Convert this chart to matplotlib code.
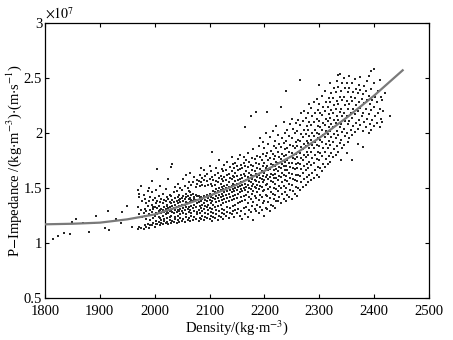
import matplotlib
matplotlib.use("Agg")
import matplotlib.pyplot as plt

plt.rcParams['font.family'] = ['Liberation Serif', 'DejaVu Serif']
plt.rcParams['mathtext.fontset'] = 'stix'

# sparse low-density points (density, impedance x1e7)
sparse_x = [1815, 1824, 1835, 1846, 1849, 1856, 1881, 1893, 1909, 1915, 1917, 1929, 1940, 1939, 1949, 1958, 1969, 1972, 1870, 1890]
sparse_y = [1.04, 1.06, 1.09, 1.08, 1.19, 1.22, 1.10, 1.25, 1.14, 1.29, 1.12, 1.22, 1.28, 1.18, 1.34, 1.15, 1.48, 1.42, 1.18, 1.18]

# dense cloud: density column -> impedance values (x1e7)
cloud = [
    (1970, [1.13, 1.33]), (1972, [1.26, 1.45, 1.15]), (1975, [1.14, 1.30, 1.52]), (1977, [1.24, 1.38]),
    (1980, [1.13, 1.27, 1.44]), (1982, [1.16, 1.31, 1.40, 1.25]), (1985, [1.15, 1.22, 1.36, 1.29]), (1987, [1.17, 1.34, 1.47]),
    (1990, [1.14, 1.26, 1.38, 1.50]), (1992, [1.16, 1.30, 1.42, 1.21]), (1995, [1.16, 1.28, 1.35, 1.46, 1.56]), (1997, [1.18, 1.23, 1.31, 1.39, 1.33]),
    (2000, [1.15, 1.25, 1.33, 1.41]), (2002, [1.17, 1.27, 1.36, 1.48, 1.20]), (2005, [1.17, 1.26, 1.32, 1.38, 1.67]), (2007, [1.19, 1.24, 1.29, 1.34, 1.43]),
    (2010, [1.16, 1.23, 1.30, 1.37, 1.52]), (2012, [1.18, 1.27, 1.31, 1.40, 1.21]), (2015, [1.17, 1.25, 1.30, 1.36, 1.45]), (2017, [1.20, 1.22, 1.28, 1.33, 1.39]),
    (2020, [1.18, 1.26, 1.31, 1.38, 1.49]), (2022, [1.19, 1.23, 1.28, 1.35, 1.42, 1.34]), (2025, [1.17, 1.27, 1.32, 1.40, 1.58]), (2027, [1.21, 1.24, 1.29, 1.33, 1.37, 1.44]),
    (2030, [1.18, 1.25, 1.30, 1.36, 1.43, 1.69]), (2032, [1.20, 1.28, 1.31, 1.34, 1.39, 1.72]), (2035, [1.19, 1.27, 1.32, 1.37, 1.46]), (2037, [1.22, 1.24, 1.30, 1.35, 1.41, 1.51]),
    (2040, [1.18, 1.28, 1.33, 1.38, 1.47]), (2042, [1.21, 1.25, 1.30, 1.36, 1.42, 1.54]), (2045, [1.19, 1.29, 1.34, 1.39, 1.44]), (2047, [1.23, 1.26, 1.31, 1.37, 1.40, 1.50]),
    (2050, [1.20, 1.29, 1.35, 1.41, 1.48]), (2052, [1.22, 1.27, 1.32, 1.38, 1.43, 1.58]), (2055, [1.19, 1.30, 1.35, 1.40, 1.52]), (2057, [1.24, 1.26, 1.33, 1.37, 1.42, 1.45, 1.62]),
    (2060, [1.21, 1.31, 1.36, 1.43, 1.50]), (2062, [1.23, 1.28, 1.33, 1.40, 1.47, 1.55]), (2065, [1.20, 1.30, 1.37, 1.41, 1.46, 1.64]), (2067, [1.25, 1.27, 1.34, 1.39, 1.44, 1.53]),
    (2070, [1.21, 1.32, 1.38, 1.45, 1.55]), (2072, [1.24, 1.29, 1.35, 1.40, 1.42, 1.60]), (2075, [1.22, 1.33, 1.39, 1.44, 1.51]), (2077, [1.26, 1.28, 1.36, 1.43, 1.54, 1.57]),
    (2080, [1.20, 1.30, 1.37, 1.43, 1.56]), (2082, [1.23, 1.27, 1.34, 1.41, 1.52, 1.62]), (2085, [1.22, 1.32, 1.38, 1.42, 1.55, 1.68]), (2087, [1.25, 1.29, 1.35, 1.40, 1.53, 1.59]),
    (2090, [1.21, 1.31, 1.36, 1.43, 1.57, 1.66]), (2092, [1.24, 1.27, 1.34, 1.39, 1.52, 1.61]), (2095, [1.23, 1.33, 1.38, 1.44, 1.56, 1.63]), (2097, [1.26, 1.30, 1.35, 1.41, 1.53]),
    (2100, [1.22, 1.32, 1.39, 1.45, 1.58, 1.70]), (2102, [1.25, 1.28, 1.36, 1.42, 1.54, 1.65]), (2105, [1.20, 1.31, 1.38, 1.44, 1.52, 1.60, 1.83]), (2107, [1.24, 1.27, 1.35, 1.41, 1.47, 1.57]),
    (2110, [1.23, 1.33, 1.40, 1.46, 1.53, 1.62]), (2112, [1.26, 1.30, 1.37, 1.43, 1.49, 1.56, 1.68]), (2115, [1.21, 1.34, 1.41, 1.47, 1.55, 1.64]), (2117, [1.25, 1.29, 1.38, 1.44, 1.50, 1.59, 1.75]),
    (2120, [1.24, 1.35, 1.42, 1.48, 1.54, 1.61]), (2122, [1.27, 1.31, 1.39, 1.45, 1.51, 1.58, 1.67]), (2125, [1.22, 1.36, 1.43, 1.49, 1.56, 1.65]), (2127, [1.26, 1.30, 1.40, 1.46, 1.52, 1.60, 1.71]),
    (2130, [1.25, 1.37, 1.44, 1.50, 1.57, 1.66]), (2132, [1.28, 1.33, 1.41, 1.47, 1.53, 1.62, 1.74]), (2135, [1.23, 1.38, 1.45, 1.51, 1.55, 1.63]), (2137, [1.27, 1.32, 1.42, 1.48, 1.59, 1.69]),
    (2140, [1.26, 1.39, 1.46, 1.52, 1.58, 1.65, 1.78]), (2142, [1.29, 1.34, 1.43, 1.49, 1.54, 1.61, 1.72]), (2145, [1.24, 1.40, 1.47, 1.53, 1.60, 1.68]), (2147, [1.30, 1.35, 1.44, 1.50, 1.56, 1.64, 1.73]),
    (2150, [1.27, 1.41, 1.48, 1.54, 1.61, 1.70]), (2152, [1.31, 1.36, 1.45, 1.51, 1.57, 1.66, 1.76]), (2155, [1.25, 1.37, 1.46, 1.52, 1.58, 1.67, 1.80]), (2157, [1.29, 1.42, 1.49, 1.55, 1.62, 1.71]),
    (2160, [1.22, 1.38, 1.47, 1.53, 1.59, 1.68]), (2162, [1.32, 1.43, 1.50, 1.56, 1.63, 1.73, 1.78]), (2165, [1.26, 1.39, 1.48, 1.54, 1.61, 1.70, 2.05]), (2167, [1.33, 1.44, 1.51, 1.57, 1.65, 1.75]),
    (2170, [1.24, 1.36, 1.46, 1.53, 1.60, 1.69, 1.82]), (2172, [1.30, 1.42, 1.50, 1.56, 1.64, 1.74]), (2175, [1.28, 1.40, 1.49, 1.55, 1.62, 1.71, 2.15]), (2177, [1.34, 1.45, 1.52, 1.58, 1.66, 1.77]),
    (2180, [1.21, 1.37, 1.47, 1.54, 1.61, 1.70, 1.85]), (2182, [1.31, 1.43, 1.51, 1.57, 1.65, 1.76]), (2185, [1.29, 1.41, 1.50, 1.56, 1.63, 1.73, 2.19]), (2187, [1.35, 1.46, 1.53, 1.60, 1.68, 1.79]),
    (2190, [1.27, 1.39, 1.49, 1.55, 1.62, 1.72, 1.88]), (2192, [1.33, 1.44, 1.52, 1.59, 1.67, 1.78, 1.95]), (2195, [1.30, 1.42, 1.51, 1.58, 1.65, 1.75]), (2197, [1.36, 1.47, 1.55, 1.61, 1.70, 1.81, 1.92]),
    (2200, [1.25, 1.38, 1.48, 1.57, 1.64, 1.73, 1.86]), (2202, [1.32, 1.44, 1.53, 1.60, 1.68, 1.79, 2.00]), (2205, [1.31, 1.43, 1.54, 1.62, 1.70, 1.82, 2.19]), (2207, [1.37, 1.49, 1.58, 1.66, 1.75, 1.90]),
    (2210, [1.29, 1.41, 1.51, 1.60, 1.67, 1.77, 1.96]), (2212, [1.35, 1.46, 1.56, 1.63, 1.72, 1.84]), (2215, [1.34, 1.45, 1.55, 1.62, 1.71, 1.81, 2.02]), (2217, [1.40, 1.50, 1.59, 1.66, 1.76, 1.88]),
    (2220, [1.32, 1.44, 1.54, 1.63, 1.70, 1.79, 1.93]), (2222, [1.38, 1.49, 1.59, 1.67, 1.74, 1.86, 2.06]), (2225, [1.38, 1.47, 1.57, 1.65, 1.73, 1.83, 1.98]), (2227, [1.42, 1.52, 1.61, 1.69, 1.78, 1.90]),
    (2230, [1.36, 1.50, 1.60, 1.68, 1.76, 1.87, 2.24]), (2232, [1.45, 1.55, 1.64, 1.72, 1.81, 1.95]), (2235, [1.40, 1.52, 1.62, 1.70, 1.79, 1.91, 2.10]), (2237, [1.46, 1.57, 1.66, 1.74, 1.85, 2.00]),
    (2240, [1.38, 1.50, 1.61, 1.70, 1.80, 1.93, 2.38]), (2242, [1.44, 1.56, 1.66, 1.75, 1.86, 2.03]), (2245, [1.42, 1.54, 1.64, 1.73, 1.83, 1.97]), (2247, [1.48, 1.59, 1.69, 1.78, 1.89, 2.08]),
    (2250, [1.40, 1.53, 1.63, 1.73, 1.82, 1.95, 2.13]), (2252, [1.47, 1.58, 1.68, 1.77, 1.88, 2.04]), (2255, [1.45, 1.57, 1.67, 1.76, 1.86, 2.00]), (2257, [1.51, 1.62, 1.72, 1.81, 1.92, 2.09]),
    (2260, [1.43, 1.56, 1.68, 1.78, 1.88, 2.02]), (2262, [1.50, 1.62, 1.73, 1.83, 1.94, 2.12]), (2265, [1.48, 1.61, 1.72, 1.82, 1.93, 2.07, 2.48]), (2267, [1.55, 1.67, 1.77, 1.87, 1.99, 2.18]),
    (2270, [1.51, 1.64, 1.75, 1.85, 1.96, 2.11]), (2272, [1.58, 1.70, 1.80, 1.90, 2.03, 2.20]), (2275, [1.53, 1.66, 1.78, 1.88, 1.99, 2.14]), (2277, [1.60, 1.72, 1.83, 1.93, 2.06]),
    (2280, [1.55, 1.68, 1.80, 1.91, 2.03, 2.18]), (2282, [1.62, 1.74, 1.86, 1.97, 2.10, 2.26]), (2285, [1.57, 1.71, 1.83, 1.94, 2.07, 2.23]), (2287, [1.64, 1.77, 1.89, 2.00, 2.15]),
    (2290, [1.59, 1.73, 1.86, 1.97, 2.10, 2.28]), (2292, [1.66, 1.80, 1.92, 2.03, 2.18]), (2295, [1.62, 1.76, 1.89, 2.00, 2.13, 2.31]), (2297, [1.69, 1.83, 1.95, 2.06, 2.21]),
    (2300, [1.60, 1.75, 1.88, 1.99, 2.11, 2.26, 2.44]), (2302, [1.68, 1.82, 1.94, 2.05, 2.18]), (2305, [1.65, 1.79, 1.92, 2.03, 2.16, 2.34]), (2307, [1.72, 1.86, 1.98, 2.09, 2.24]),
    (2310, [1.69, 1.83, 1.96, 2.07, 2.20, 2.38]), (2312, [1.76, 1.90, 2.02, 2.13, 2.28]), (2315, [1.72, 1.86, 1.99, 2.11, 2.24]), (2317, [1.79, 1.93, 2.05, 2.17, 2.32]),
    (2320, [1.74, 1.89, 2.02, 2.14, 2.28, 2.45]), (2322, [1.82, 1.96, 2.08, 2.21, 2.36]), (2325, [1.78, 1.92, 2.05, 2.18, 2.32]), (2327, [1.85, 1.99, 2.12, 2.25, 2.41]),
    (2330, [1.80, 1.95, 2.09, 2.22, 2.37]), (2332, [1.88, 2.02, 2.15, 2.29, 2.47]), (2335, [1.83, 1.98, 2.12, 2.26, 2.42, 2.53]), (2337, [1.91, 2.05, 2.19, 2.33, 2.54]),
    (2340, [1.75, 1.94, 2.08, 2.22, 2.38]), (2342, [1.86, 2.01, 2.15, 2.30, 2.45]), (2345, [1.89, 2.04, 2.18, 2.33, 2.50]), (2347, [1.97, 2.11, 2.25, 2.41]),
    (2350, [1.82, 2.00, 2.15, 2.29, 2.45]), (2352, [1.92, 2.08, 2.22, 2.37]), (2355, [1.95, 2.11, 2.26, 2.41, 2.52]), (2357, [2.03, 2.18, 2.33]),
    (2360, [1.75, 1.98, 2.14, 2.29, 2.45]), (2362, [2.06, 2.22, 2.37]), (2365, [2.01, 2.17, 2.32, 2.49]), (2367, [2.09, 2.25, 2.40]),
    (2370, [1.90, 2.04, 2.20, 2.36]), (2372, [2.12, 2.28, 2.44]), (2375, [2.07, 2.23, 2.39, 2.51]), (2377, [2.15, 2.31]),
    (2380, [1.87, 2.02, 2.18, 2.35]), (2382, [2.10, 2.27, 2.43]), (2385, [2.05, 2.22, 2.38]), (2387, [2.13, 2.30, 2.47]),
    (2390, [2.00, 2.17, 2.34, 2.52]), (2392, [2.08, 2.26]), (2395, [2.03, 2.21, 2.40, 2.56]), (2397, [2.12, 2.30]),
    (2400, [2.06, 2.24, 2.45, 2.58]), (2402, [2.15, 2.33]), (2405, [2.09, 2.28]), (2407, [2.18, 2.38]),
    (2410, [2.05, 2.22, 2.48]), (2412, [2.13, 2.33]), (2415, [2.10, 2.30]), (2417, [2.20]),
    (2420, [2.36]), (2429, [2.15]),
]

# fitted trend curve
curve_x = [1800, 1850, 1900, 1950, 2000, 2050, 2100, 2150, 2200, 2250, 2300, 2350, 2400, 2452]
curve_y = [1.17, 1.175, 1.185, 1.215, 1.26, 1.34, 1.43, 1.53, 1.655, 1.79, 1.955, 2.14, 2.34, 2.57]

xticks = [1800, 1900, 2000, 2100, 2200, 2300, 2400, 2500]
yticks = [0.5, 1, 1.5, 2, 2.5, 3]
ytick_labels = ['0.5', '1', '1.5', '2', '2.5', '3']

dens = list(sparse_x)
imp = list(sparse_y)
for cx, ys in cloud:
    for yv in ys:
        dens.append(cx)
        imp.append(yv)

fig = plt.figure(figsize=(4.53, 3.40), dpi=100)
ax = fig.add_axes([0.0993, 0.1235, 0.8477, 0.8089])

ax.scatter(dens, imp, s=1.8, marker='s', color='#262626', linewidths=0, zorder=2)
ax.plot(curve_x, curve_y, color='#7a7a7a', lw=1.6, zorder=3)

ax.set_xlim(1800, 2500)
ax.set_ylim(0.5, 3)
ax.set_xticks(xticks)
ax.set_yticks(yticks)
ax.set_yticklabels(ytick_labels)
ax.tick_params(direction='in', top=True, right=True, length=3, width=0.8,
               labelsize=10.5, colors='black')
ax.tick_params(axis='x', pad=5)
ax.tick_params(axis='y', pad=2)
for sp in ax.spines.values():
    sp.set_linewidth(0.9)

ax.set_xlabel(r'Density/(kg$\cdot$m$^{-3}$)', fontsize=10.5, labelpad=0)
ax.set_ylabel(r'P$-$Impedance /(kg$\cdot$m$^{-3}$)$\cdot$(m$\cdot$s$^{-1}$)', fontsize=10.5, labelpad=0)
ax.text(0.0, 1.005, r'$\times10^{7}$', transform=ax.transAxes, fontsize=10,
        ha='left', va='bottom')

fig.savefig('out.png', dpi=100)
